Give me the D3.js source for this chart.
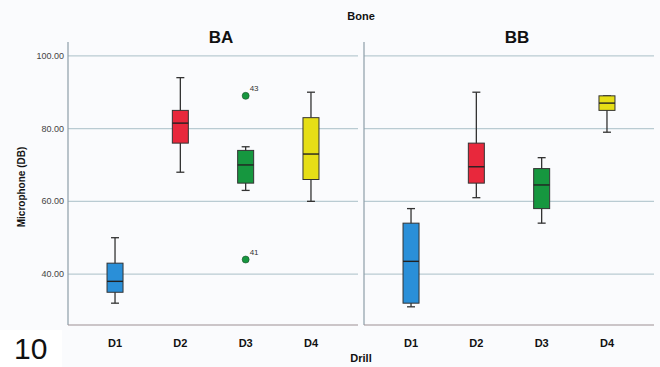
<!DOCTYPE html>
<html>
<head>
<meta charset="utf-8">
<script src="https://cdn.jsdelivr.net/npm/d3@7"></script>
<style>
  body { margin: 0; background: #ffffff; }
  text { font-family: "Liberation Sans", Arial, sans-serif; }
</style>
</head>
<body>
<svg id="chart" width="660" height="367"></svg>
<script>
// panels (Bone) and categories (Drill)
var panels = ["BA", "BB"];
var drills = ["D1", "D2", "D3", "D4"];
var colors = ["#2a8fd8", "#e8283c", "#16973f", "#e6de16"];

// five-number summaries: [min, q1, median, q3, max]
var baStats = [
    [32, 35, 38, 43, 50],
    [68, 76, 81.5, 85, 94],
    [63, 65, 70, 74, 75],
    [60, 66, 73, 83, 90]
];
var bbStats = [
    [31, 32, 43.5, 54, 58],
    [61, 65, 69.5, 76, 90],
    [54, 58, 64.5, 69, 72],
    [79, 85, 87, 89, 89]
];
// outliers: [panel, drill, value, case label]
var outliers = [
    ["BA", "D3", 89, "43"],
    ["BA", "D3", 44, "41"]
];
var yTicks = [40, 60, 80, 100];

var svg = d3.select("#chart");

// light chart background
svg.append("rect")
    .attr("x", 0).attr("y", 0)
    .attr("width", 660).attr("height", 367)
    .attr("fill", "#fafbfd");

var yTop = 42, yBottom = 325;
var y = d3.scaleLinear().domain([26, 103.8]).range([yBottom, yTop]);

var panelX = {BA: [68, 358], BB: [364, 654]};
var statsFor = {BA: baStats, BB: bbStats};

// y axis tick labels (left panel only)
svg.selectAll(".ytick")
    .data(yTicks)
    .enter()
    .append("text")
    .attr("class", "ytick")
    .attr("x", 64)
    .attr("y", function(d){ return y(d) + 3; })
    .attr("text-anchor", "end")
    .attr("font-size", 9)
    .attr("fill", "#444")
    .text(function(d){ return d.toFixed(2); });

panels.forEach(function(p){
    var x0 = panelX[p][0], x1 = panelX[p][1];
    var x = d3.scalePoint().domain(drills).range([x0, x1]).padding(0.72);
    var g = svg.append("g");

    // gridlines
    g.selectAll(".grid")
        .data(yTicks)
        .enter()
        .append("line")
        .attr("x1", x0).attr("x2", x1)
        .attr("y1", function(d){ return y(d); })
        .attr("y2", function(d){ return y(d); })
        .attr("stroke", "#b9cbd2")
        .attr("stroke-width", 1.2);

    // axis frame
    g.append("line")
        .attr("x1", x0).attr("x2", x0)
        .attr("y1", yTop).attr("y2", yBottom)
        .attr("stroke", "#8d9ea8").attr("stroke-width", 1.2);
    g.append("line")
        .attr("x1", x0).attr("x2", x1)
        .attr("y1", yBottom).attr("y2", yBottom)
        .attr("stroke", "#9c8f93").attr("stroke-width", 1.2);

    // panel title
    g.append("text")
        .attr("x", (x0 + x1) / 2 + 8)
        .attr("y", 43)
        .attr("text-anchor", "middle")
        .attr("font-size", 17)
        .attr("font-weight", "bold")
        .attr("fill", "#111")
        .text(p);

    // category labels
    g.selectAll(".xlab")
        .data(drills)
        .enter()
        .append("text")
        .attr("x", function(d){ return x(d); })
        .attr("y", 347)
        .attr("text-anchor", "middle")
        .attr("font-size", 11)
        .attr("font-weight", "bold")
        .attr("fill", "#111")
        .text(function(d){ return d; });

    var boxW = 16, capW = 8;
    var data = statsFor[p];
    var boxes = g.selectAll(".box")
        .data(data)
        .enter()
        .append("g");

    // whiskers
    boxes.append("line")
        .attr("x1", function(d,i){ return x(drills[i]); })
        .attr("x2", function(d,i){ return x(drills[i]); })
        .attr("y1", function(d){ return y(d[0]); })
        .attr("y2", function(d){ return y(d[4]); })
        .attr("stroke", "#333").attr("stroke-width", 1.3);
    [0, 4].forEach(function(k){
        boxes.append("line")
            .attr("x1", function(d,i){ return x(drills[i]) - capW/2; })
            .attr("x2", function(d,i){ return x(drills[i]) + capW/2; })
            .attr("y1", function(d){ return y(d[k]); })
            .attr("y2", function(d){ return y(d[k]); })
            .attr("stroke", "#333").attr("stroke-width", 1.3);
    });
    // box
    boxes.append("rect")
        .attr("x", function(d,i){ return x(drills[i]) - boxW/2; })
        .attr("y", function(d){ return y(d[3]); })
        .attr("width", boxW)
        .attr("height", function(d){ return y(d[1]) - y(d[3]); })
        .attr("fill", function(d,i){ return colors[i]; })
        .attr("stroke", "#333").attr("stroke-width", 1);
    // median
    boxes.append("line")
        .attr("x1", function(d,i){ return x(drills[i]) - boxW/2; })
        .attr("x2", function(d,i){ return x(drills[i]) + boxW/2; })
        .attr("y1", function(d){ return y(d[2]); })
        .attr("y2", function(d){ return y(d[2]); })
        .attr("stroke", "#222").attr("stroke-width", 1.4);

    // outliers
    var outs = outliers.filter(function(o){ return o[0] === p; });
    g.selectAll(".out")
        .data(outs)
        .enter()
        .append("circle")
        .attr("cx", function(d){ return x(d[1]); })
        .attr("cy", function(d){ return y(d[2]); })
        .attr("r", 3.5)
        .attr("fill", function(d){ return colors[drills.indexOf(d[1])]; })
        .attr("stroke", "#1a4d2a").attr("stroke-width", 0.6);
    g.selectAll(".outlab")
        .data(outs)
        .enter()
        .append("text")
        .attr("x", function(d){ return x(d[1]) + 4; })
        .attr("y", function(d){ return y(d[2]) - 5; })
        .attr("font-size", 8)
        .attr("fill", "#333")
        .text(function(d){ return d[3]; });
});

// overall titles
svg.append("text")
    .attr("x", 361).attr("y", 20)
    .attr("text-anchor", "middle")
    .attr("font-size", 11).attr("font-weight", "bold").attr("fill", "#111")
    .text("Bone");

svg.append("text")
    .attr("x", 361).attr("y", 362)
    .attr("text-anchor", "middle")
    .attr("font-size", 11).attr("font-weight", "bold").attr("fill", "#111")
    .text("Drill");

svg.append("text")
    .attr("transform", "translate(25,187) rotate(-90)")
    .attr("text-anchor", "middle")
    .attr("font-size", 10).attr("font-weight", "bold").attr("fill", "#111")
    .text("Microphone (DB)");

// figure number
svg.append("rect")
    .attr("x", 0).attr("y", 330).attr("width", 62).attr("height", 37)
    .attr("fill", "#ffffff");
svg.append("text")
    .attr("x", 14).attr("y", 359)
    .attr("font-size", 30)
    .attr("fill", "#111")
    .text("10");
</script>
</body>
</html>
